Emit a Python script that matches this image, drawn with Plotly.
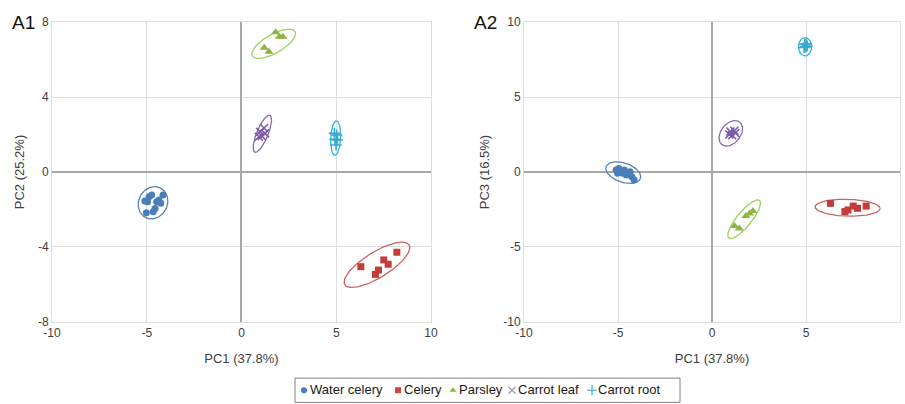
import numpy as np
import plotly.graph_objects as go

# ---- PCA scores per sample group ----
water_celery_pc1 = [-5.10, -5.02, -4.96, -4.88, -4.74, -4.66, -4.56, -4.48, -4.36, -4.26, -4.14]
water_celery_pc2 = [-1.55, -2.17, -1.58, -1.32, -1.23, -2.12, -1.94, -1.58, -1.49, -1.67, -1.23]
water_celery_pc3 = [0.13, -0.09, 0.24, 0.02, -0.09, 0.13, -0.20, -0.09, 0.02, -0.31, -0.53]

celery_pc1 = [6.30, 7.07, 7.23, 7.51, 7.74, 8.20]
celery_pc2 = [-5.05, -5.46, -5.23, -4.69, -4.92, -4.28]
celery_pc3 = [-2.09, -2.64, -2.53, -2.27, -2.42, -2.27]

parsley_pc1 = [1.20, 1.45, 1.80, 2.00, 2.18]
parsley_pc2 = [6.63, 6.42, 7.45, 7.22, 7.22]
parsley_pc3 = [-3.60, -3.76, -2.93, -2.76, -2.60]

carrot_leaf_pc1 = [0.92, 0.98, 1.07, 1.19, 1.24]
carrot_leaf_pc2 = [1.88, 2.15, 1.92, 2.35, 2.06]
carrot_leaf_pc3 = [2.50, 2.70, 2.45, 2.75, 2.60]

carrot_root_pc1 = [4.90, 4.93, 4.99, 5.02, 5.06]
carrot_root_pc2 = [2.06, 1.74, 1.44, 1.97, 1.71]
carrot_root_pc3 = [8.30, 8.50, 8.35, 8.55, 8.40]

group_names = ["Water celery", "Celery", "Parsley", "Carrot leaf", "Carrot root"]

# confidence ellipses: (centre x, centre y, semi-major, semi-minor, angle in degrees)
ellipses_pc1_pc2 = [
    (-4.67, -1.64, 0.88, 0.76, 65),
    (7.15, -4.95, 2.00, 0.68, 32),
    (1.70, 6.84, 1.30, 0.50, 30),
    (1.10, 2.04, 1.06, 0.30, 68),
    (4.97, 1.81, 0.92, 0.26, 87),
]
ellipses_pc1_pc3 = [
    (-4.72, -0.04, 1.00, 0.62, -28),
    (7.21, -2.38, 1.73, 0.56, -2),
    (1.71, -3.15, 1.50, 0.42, 58),
    (1.00, 2.58, 0.90, 0.55, 65),
    (4.95, 8.35, 0.61, 0.35, 90),
]

x_ticks = [-10, -5, 0, 5, 10]
pc2_ticks = [-8, -4, 0, 4, 8]
pc3_ticks = [-10, -5, 0, 5, 10]

# ---- styling ----
FONT = "Liberation Sans, Arial"
marker_colors = ["#4a7ebb", "#c43c3a", "#8fb443", "#7b5aa6", "#3aa9d0"]
ellipse_colors = ["#5a82bb", "#c86361", "#9bd35a", "#8a6aad", "#2bb6ea"]
legend_colors = ["#4a7ebb", "#d04545", "#8fb443", "#a58fcc", "#3aa9d0"]
marker_symbols = ["circle", "square", "triangle-up", "x-thin", "cross-thin"]
marker_sizes = [7, 7, 8, 8, 8]

# legend layout (pixel offsets inside the legend box)
legend_symbol_x = [9, 103, 158, 217, 297]
legend_text_gap = 6

scores = [
    (water_celery_pc1, water_celery_pc2, water_celery_pc3),
    (celery_pc1, celery_pc2, celery_pc3),
    (parsley_pc1, parsley_pc2, parsley_pc3),
    (carrot_leaf_pc1, carrot_leaf_pc2, carrot_leaf_pc3),
    (carrot_root_pc1, carrot_root_pc2, carrot_root_pc3),
]


def ellipse_path(cx, cy, a, b, ang):
    t = np.linspace(0, 2 * np.pi, 120)
    th = np.deg2rad(ang)
    ex = cx + a * np.cos(t) * np.cos(th) - b * np.sin(t) * np.sin(th)
    ey = cy + a * np.cos(t) * np.sin(th) + b * np.sin(t) * np.cos(th)
    return ex, ey


def marker_style(i, size):
    sym = marker_symbols[i]
    thin = sym in ("x-thin", "cross-thin")
    return dict(symbol=sym, size=size, color=marker_colors[i],
                line=dict(color=marker_colors[i], width=1.6 if thin else 0))


fig = go.Figure()

for panel, (xa, ya, ells) in enumerate([("x", "y", ellipses_pc1_pc2), ("x2", "y2", ellipses_pc1_pc3)]):
    for i, name in enumerate(group_names):
        ex, ey = ellipse_path(*ells[i])
        fig.add_trace(go.Scatter(
            x=ex, y=ey, mode="lines", xaxis=xa, yaxis=ya,
            line=dict(color=ellipse_colors[i], width=1.3),
            hoverinfo="skip", showlegend=False,
        ))
    for i, name in enumerate(group_names):
        pc1, pc2, pc3 = scores[i]
        yv = pc2 if panel == 0 else pc3
        fig.add_trace(go.Scatter(
            x=pc1, y=yv, mode="markers", name=name, xaxis=xa, yaxis=ya,
            showlegend=False, marker=marker_style(i, marker_sizes[i]),
        ))

# compact legend drawn on its own small axis
for i, name in enumerate(group_names):
    st = marker_style(i, 6 if i < 3 else 7)
    st["color"] = legend_colors[i]
    st["line"]["color"] = legend_colors[i]
    if i >= 3:
        st["line"]["width"] = 1.2
    fig.add_trace(go.Scatter(
        x=[legend_symbol_x[i]], y=[0.5], mode="markers", xaxis="x3", yaxis="y3",
        marker=st, hoverinfo="skip", showlegend=False,
    ))
    fig.add_trace(go.Scatter(
        x=[legend_symbol_x[i] + legend_text_gap], y=[0.5], mode="text", text=[name],
        textposition="middle right", xaxis="x3", yaxis="y3",
        textfont=dict(family=FONT, size=13, color="#1a1a1a"),
        hoverinfo="skip", showlegend=False,
    ))


def tick_text(vals):
    return [str(v) for v in vals]


axis_common = dict(
    showgrid=True, gridcolor="#dedede", gridwidth=1,
    zeroline=True, zerolinecolor="#a8a8a8", zerolinewidth=2,
    showline=True, linecolor="#dedede", linewidth=1, mirror=True,
    ticks="", automargin=False,
    tickfont=dict(family=FONT, size=12, color="#404040"),
    title_font=dict(family=FONT, size=13, color="#404040"),
)
hidden = dict(visible=False, showgrid=False, zeroline=False, fixedrange=True)

fig.update_layout(
    width=905, height=404,
    margin=dict(l=0, r=0, t=0, b=0),
    paper_bgcolor="white", plot_bgcolor="white",
    font=dict(family=FONT, size=12, color="#404040"),
    showlegend=False,
    xaxis=dict(domain=[0.0575, 0.4762], range=[-10, 10], tickvals=x_ticks, ticktext=tick_text(x_ticks),
               title=dict(text="PC1 (37.8%)", standoff=14), anchor="y", **axis_common),
    yaxis=dict(domain=[0.203, 0.9455], range=[-8, 8], tickvals=pc2_ticks, ticktext=tick_text(pc2_ticks),
               title=dict(text="PC2 (25.2%)", standoff=10), anchor="x", **axis_common),
    xaxis2=dict(domain=[0.579, 0.9945], range=[-10, 10], tickvals=x_ticks, ticktext=tick_text(x_ticks),
                title=dict(text="PC1 (37.8%)", standoff=14), anchor="y2", **axis_common),
    yaxis2=dict(domain=[0.203, 0.9455], range=[-10, 10], tickvals=pc3_ticks, ticktext=tick_text(pc3_ticks),
                title=dict(text="PC3 (16.5%)", standoff=10), anchor="x2", **axis_common),
    xaxis3=dict(domain=[0.326, 0.7514], range=[0, 385], anchor="y3", **hidden),
    yaxis3=dict(domain=[0.004, 0.064], range=[0, 1], anchor="x3", **hidden),
    shapes=[
        dict(type="rect", xref="paper", yref="paper", x0=0.326, x1=0.7514, y0=0.004, y1=0.064,
             line=dict(color="#808080", width=1), fillcolor="rgba(0,0,0,0)"),
    ],
    annotations=[
        dict(text="A1", x=0.011, y=0.945, xref="paper", yref="paper",
             xanchor="left", yanchor="middle", showarrow=False,
             font=dict(family=FONT, size=19, color="#111111")),
        dict(text="A2", x=0.522, y=0.945, xref="paper", yref="paper",
             xanchor="left", yanchor="middle", showarrow=False,
             font=dict(family=FONT, size=19, color="#111111")),
    ],
)

fig.write_html("out.html")
